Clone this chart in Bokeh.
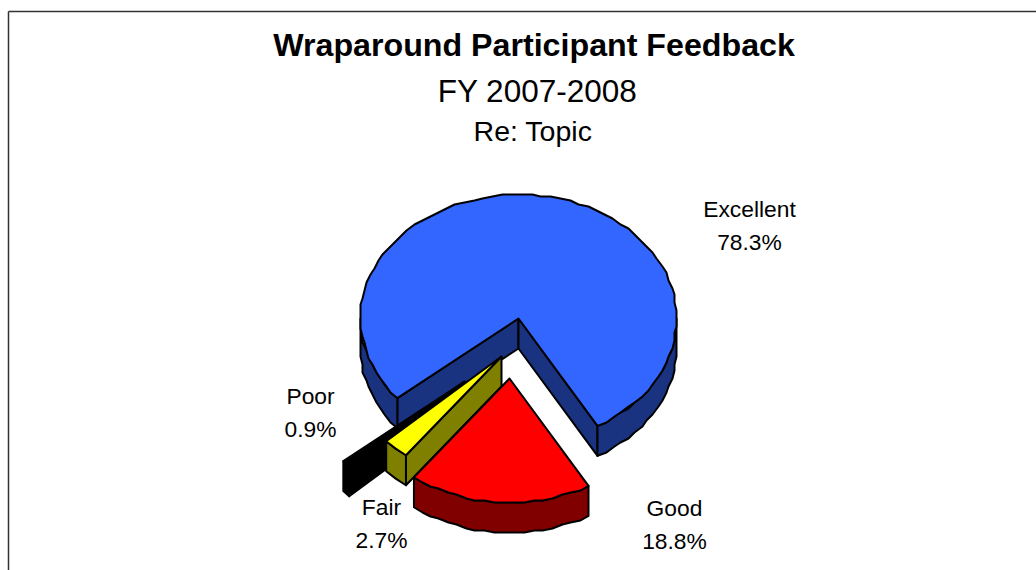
import numpy as np
from bokeh.plotting import figure
from bokeh.models import ColumnDataSource
from bokeh.core.properties import value
from bokeh.embed import file_html
from bokeh.resources import INLINE

# --- data ---
categories = ["Excellent", "Good", "Fair", "Poor"]
percent = [78.3, 18.8, 2.7, 0.9]
top_colors = ["#3366FF", "#FF0000", "#FFFF00", "#000000"]
side_colors = ["#1A3380", "#800000", "#808000", "#000000"]
title_lines = ["Wraparound Participant Feedback", "FY 2007-2008", "Re: Topic"]

# --- layout: apex of each slice, in page pixels ---
apex_x = [518, 509, 501, 464]
apex_y = [318, 378, 356, 381]
label_x = [749, 674, 381, 310]
label_y = [208, 507, 506, 395]
RX, RY, DEPTH = 158, 124, 30
END_OF_FIRST = 150.0   # clockwise degrees from 12 o'clock where Excellent ends
GRID = 2.0

fracs = np.array(percent) / sum(percent) * 360.0
starts, ends = [], []
a = END_OF_FIRST - fracs[0]
for f in fracs:
    starts.append(a)
    ends.append(a + f)
    a += f


def rim(cx, cy, t0, t1, step=3.5):
    n = max(2, int(abs(t1 - t0) / step) + 1)
    t = np.radians(np.linspace(t0, t1, n))
    x = cx + RX * np.sin(t)
    y = cy - RY * np.cos(t)
    if n > 4:
        x[1:-1] = np.round(x[1:-1] / GRID) * GRID
        y[1:-1] = np.round(y[1:-1] / GRID) * GRID
    return x, y


def visible_front(t0, t1):
    parts = []
    for k in (-360, 0, 360):
        lo, hi = max(t0, 90 + k), min(t1, 270 + k)
        if lo < hi:
            parts.append((lo, hi))
    return parts


xs, ys, fills = [], [], []
groups = {}
for i in range(len(categories)):
    first = len(xs)
    cx, cy = apex_x[i], apex_y[i]
    t0, t1 = starts[i], ends[i]
    # cut faces: only those turned towards the viewer
    faces = []
    if np.sin(np.radians(t0)) < 0:
        faces.append(t0)
    if np.sin(np.radians(t1)) > 0:
        faces.append(t1)
    for t in faces:
        ex, ey = rim(cx, cy, t, t)
        xs.append([cx, ex[0], ex[0], cx])
        ys.append([cy, ey[0], ey[0] + DEPTH, cy + DEPTH])
        fills.append(side_colors[i])
    for lo, hi in visible_front(t0, t1):
        rx, ry = rim(cx, cy, lo, hi)
        xs.append(list(rx) + list(rx[::-1]))
        ys.append(list(ry) + list((ry + DEPTH)[::-1]))
        fills.append(side_colors[i])
    rx, ry = rim(cx, cy, t0, t1)
    xs.append([cx] + list(rx))
    ys.append([cy] + list(ry))
    fills.append(top_colors[i])
    groups[i] = list(range(first, len(xs)))

paint = [k for i in (0, 3, 2, 1) for k in groups[i]]

p = figure(width=1036, height=570, x_range=(0, 1036), y_range=(570, 0),
           output_backend="svg", toolbar_location=None, min_border=0,
           outline_line_color=None, background_fill_color="white",
           x_axis_type=None, y_axis_type=None)
p.grid.visible = False
p.styles = {"position": "absolute", "left": "0px", "top": "0px"}

p.multi_line([[8, 8], [8, 1036]], [[570, 11], [11, 11]], line_color="#333333", line_width=1.5)

p.patches([xs[k] for k in paint], [ys[k] for k in paint],
          fill_color=[fills[k] for k in paint], line_color="black",
          line_width=2, line_join="round")

lab = ColumnDataSource(dict(x=label_x, y=label_y, t=categories))
p.text("x", "y", text="t", source=lab, text_align="center", text_baseline="middle",
       text_font=value("Liberation Sans"), text_font_size="22.8px", text_color="black")
lab2 = ColumnDataSource(dict(x=label_x, y=[v + 33.5 for v in label_y], t=[f"{v}%" for v in percent]))
p.text("x", "y", text="t", source=lab2, text_align="center", text_baseline="middle",
       text_font=value("Liberation Sans"), text_font_size="22.8px", text_color="black")

p.text([533.5], [44], text=[title_lines[0]], text_align="center", text_baseline="middle",
       text_font=value("Liberation Sans"), text_font_size="32.2px", text_font_style="bold", text_color="black")
p.text([537], [90.5], text=[title_lines[1]], text_align="center", text_baseline="middle",
       text_font=value("Liberation Sans"), text_font_size="31.5px", text_color="black")
p.text([532.5], [130], text=[title_lines[2]], text_align="center", text_baseline="middle",
       text_font=value("Liberation Sans"), text_font_size="28.5px", text_color="black")

open("out.html", "w").write(file_html(p, INLINE))
